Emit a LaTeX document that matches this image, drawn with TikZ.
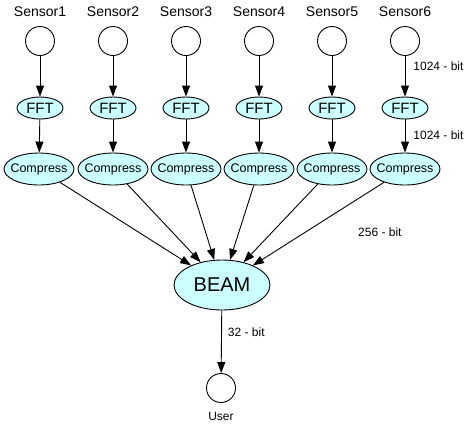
\documentclass[tikz,border=0pt]{standalone}
\usepackage{fontspec}
\setmainfont{Liberation Sans}
\usetikzlibrary{positioning,shapes.geometric,arrows.meta}
\definecolor{ProcCyan}{RGB}{204,255,255}
\tikzset{
  src/.style={circle,draw=black,fill=white,line width=0.9pt,minimum size=29pt,inner sep=0pt},
  fftnode/.style={ellipse,draw=black,fill=ProcCyan,line width=0.9pt,inner sep=0pt,
    minimum width=46pt,minimum height=22pt,font=\fontsize{15}{15}\selectfont},
  cmpnode/.style={ellipse,draw=black,fill=ProcCyan,line width=0.9pt,inner xsep=-4pt,inner ysep=0pt,
    minimum width=70pt,minimum height=32pt,font=\fontsize{12.5}{12.5}\selectfont},
  beamnode/.style={ellipse,draw=black,fill=ProcCyan,line width=0.9pt,inner sep=0pt,
    minimum width=96pt,minimum height=50pt,font=\fontsize{20}{20}\selectfont},
}
\tikzset{flow/.style={draw=black,line width=0.9pt,-{Triangle[length=11pt,width=8pt]}}, tag/.style={font=\fontsize{14}{14}\selectfont,inner sep=0pt},bits/.style={font=\fontsize{12}{12}\selectfont,inner sep=0pt,anchor=west}}

\begin{document}
\begin{tikzpicture}[x=1pt,y=-1pt]
\useasboundingbox (0,0) rectangle (465,424);
% sensors
\node[tag] (t1) at (40,12) {Sensor1};
\node[tag] (t2) at (113,12) {Sensor2};
\node[tag] (t3) at (186,12) {Sensor3};
\node[tag] (t4) at (259,12) {Sensor4};
\node[tag] (t5) at (332,12) {Sensor5};
\node[tag] (t6) at (405,12) {Sensor6};
\node[src] (s1) at (40,41) {};
\node[src] (s2) at (113,41) {};
\node[src] (s3) at (186,41) {};
\node[src] (s4) at (259,41) {};
\node[src] (s5) at (332,41) {};
\node[src] (s6) at (405,41) {};
% fft stage
\node[fftnode] (f1) at (40,108) {FFT};
\node[fftnode] (f2) at (113,108) {FFT};
\node[fftnode] (f3) at (186,108) {FFT};
\node[fftnode] (f4) at (259,108) {FFT};
\node[fftnode] (f5) at (332,108) {FFT};
\node[fftnode] (f6) at (405,108) {FFT};
% compression stage
\node[cmpnode] (c1) at (39,169) {Compress};
\node[cmpnode] (c2) at (113,169) {Compress};
\node[cmpnode] (c3) at (186,169) {Compress};
\node[cmpnode] (c4) at (259,169) {Compress};
\node[cmpnode] (c5) at (332,169) {Compress};
\node[cmpnode] (c6) at (405,169) {Compress};
% beamformer and sink
\node[beamnode] (beam) at (222,285) {BEAM};
\node[src] (user) at (221,388) {};
\node[font=\fontsize{12}{12}\selectfont,inner sep=0pt] (ulab) at (221,416) {User};
\draw[flow] (s1) -- (f1);
\draw[flow] (s2) -- (f2);
\draw[flow] (s3) -- (f3);
\draw[flow] (s4) -- (f4);
\draw[flow] (s5) -- (f5);
\draw[flow] (s6) -- node[bits,pos=0.25,xshift=8pt] {1024 - bit} (f6);
\draw[flow] (f1) -- (c1);
\draw[flow] (f2) -- (c2);
\draw[flow] (f3) -- (c3);
\draw[flow] (f4) -- (c4);
\draw[flow] (f5) -- (c5);
\draw[flow] (f6) -- node[bits,pos=0.49,xshift=8pt] {1024 - bit} (c6);
\draw[flow] (c1) -- (beam);
\draw[flow] (c2) -- (beam);
\draw[flow] (c3) -- (beam);
\draw[flow] (c4) -- (beam);
\draw[flow] (c5) -- (beam);
\draw[flow] (c6) -- (beam);
\node[bits] (w256) at (358,232) {256 - bit};
\draw[flow] (beam) -- node[bits,pos=0.35,xshift=6pt] {32 - bit} (user);
\end{tikzpicture}
\end{document}
